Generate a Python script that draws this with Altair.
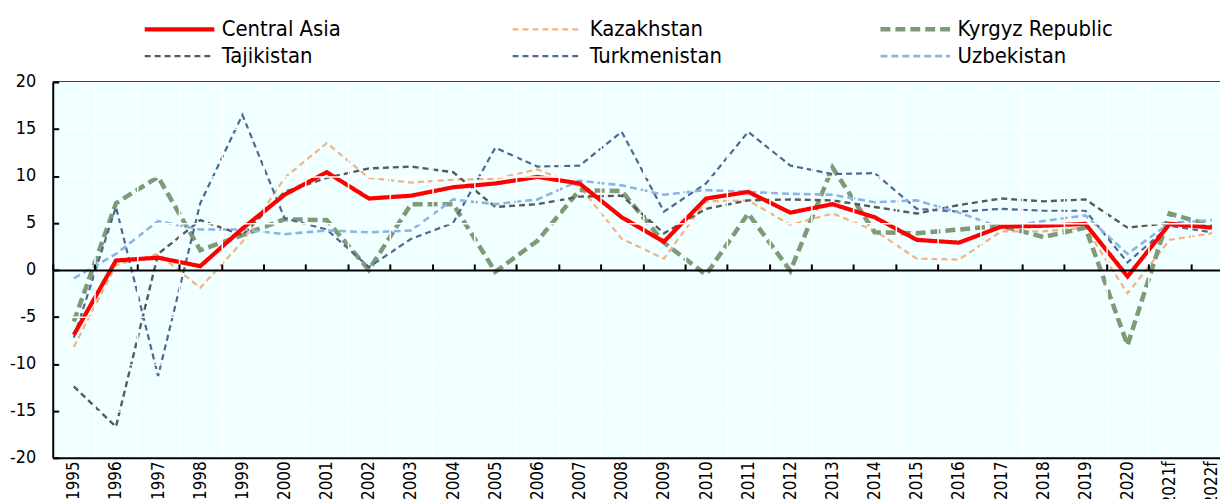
import altair as alt
import pandas as pd

years = [str(y) for y in range(1995, 2021)] + ["2021f", "2022f"]

series_names = ["Central Asia", "Kazakhstan", "Kyrgyz Republic",
                "Tajikistan", "Turkmenistan", "Uzbekistan"]

central_asia = [-6.9, 1.0, 1.3, 0.4, 4.4, 8.0, 10.4, 7.6, 7.9, 8.8, 9.2, 9.9, 9.2, 5.6,
                3.0, 7.6, 8.3, 6.1, 7.0, 5.6, 3.2, 2.9, 4.6, 4.7, 4.9, -0.7, 4.9, 4.5]
kazakhstan = [-8.2, 0.5, 1.7, -1.9, 3.0, 9.8, 13.5, 9.8, 9.3, 9.6, 9.7, 10.7, 8.9, 3.3,
              1.2, 7.3, 7.4, 4.8, 6.0, 4.2, 1.2, 1.1, 4.1, 4.1, 4.5, -2.5, 3.2, 3.9]
kyrgyz = [-5.5, 7.1, 9.9, 2.1, 3.7, 5.4, 5.3, 0.0, 7.0, 7.0, -0.2, 3.1, 8.5, 8.4,
          2.9, -0.5, 6.0, -0.1, 10.9, 4.0, 3.9, 4.3, 4.7, 3.5, 4.5, -8.0, 6.0, 4.7]
tajikistan = [-12.4, -16.7, 1.7, 5.3, 3.7, 8.3, 9.8, 10.8, 11.0, 10.4, 6.7, 7.0, 7.8, 7.9,
              3.9, 6.5, 7.4, 7.5, 7.4, 6.7, 6.0, 6.9, 7.6, 7.3, 7.5, 4.5, 5.0, 4.6]
turkmenistan = [-7.2, 6.7, -11.3, 7.1, 16.5, 5.5, 4.3, 0.3, 3.3, 5.0, 13.0, 11.0, 11.1, 14.7,
                6.2, 9.2, 14.7, 11.1, 10.2, 10.3, 6.5, 6.2, 6.5, 6.3, 6.3, 0.8, 4.7, 4.0]
uzbekistan = [-0.9, 1.7, 5.2, 4.3, 4.3, 3.8, 4.2, 4.0, 4.2, 7.5, 7.0, 7.5, 9.5, 9.0,
              8.0, 8.5, 8.3, 8.1, 8.0, 7.2, 7.4, 6.1, 4.5, 5.2, 5.8, 1.7, 5.0, 5.3]

y_ticks = [-20, -15, -10, -5, 0, 5, 10, 15, 20]

colors = ["#ff0000", "#f4b183", "#7e9a77", "#595959", "#4d6891", "#8db4e2"]
dashes = [[1, 0], [6, 4], [10, 5], [6, 4], [6, 4], [7, 4]]
widths = [4.2, 2.2, 4.5, 2.4, 2.2, 2.6]

FONT = "Liberation Sans Narrow, Arial Narrow, DejaVu Sans Condensed, Liberation Sans, sans-serif"

rows = []
for name, vals in zip(series_names,
                      [central_asia, kazakhstan, kyrgyz, tajikistan, turkmenistan, uzbekistan]):
    for yr, v in zip(years, vals):
        rows.append({"year": yr, "series": name, "value": v})
df = pd.DataFrame(rows)

W = 1174
H = 378
FULL = 1187  # full band range (plot continues beyond the right edge of the page)

xscale = alt.Scale(type="band", domain=years, range=[0, FULL], paddingInner=0, paddingOuter=0)
yscale = alt.Scale(domain=[-20, 20], nice=False, zero=False)

legend = alt.Legend(title=None, orient="none", legendX=90, legendY=-66, columns=3,
                    direction="horizontal", clipHeight=26,
                    symbolType="stroke", symbolSize=4900, labelFontSize=22, labelFont=FONT,
                    labelOffset=5, columnPadding=133, rowPadding=1, gridAlign="all",
                    padding=0, labelLimit=400, labelColor="black")

color = alt.Color("series:N", scale=alt.Scale(domain=series_names, range=colors), legend=legend)
dash = alt.StrokeDash("series:N", scale=alt.Scale(type="ordinal", domain=series_names, range=dashes),
                      legend=legend)
sw = alt.StrokeWidth("series:N", scale=alt.Scale(type="ordinal", domain=series_names, range=widths),
                     legend=legend)

xaxis = alt.Axis(orient="bottom", tickBand="extent", title=None, ticks=False, grid=True,
                 gridColor="white", gridWidth=1.5, domainColor="black", domainWidth=2,
                 labelAngle=270, labelAlign="right", labelBaseline="middle", labelFontSize=17,
                 labelFont=FONT, labelPadding=3, labelColor="black", labelOverlap=False,
                 labelFlush=False, zindex=1)
yaxis = alt.Axis(orient="left", values=y_ticks, title=None, ticks=False, grid=True,
                 gridColor={"condition": {"test": "datum.value === 0", "value": "transparent"},
                            "value": "white"},
                 gridWidth=1.5, domainColor="black", domainWidth=2, labelFontSize=18,
                 labelFont=FONT, labelPadding=17, labelColor="black",
                 labelExpr="'' + datum.value", zindex=1)

zero_axis = alt.Axis(orient="top", offset=-189, tickBand="extent", labels=False, title=None,
                     grid=False, domainColor="black", domainWidth=2, tickColor="black",
                     tickWidth=2, tickSize=6, zindex=1)
tick_axis = alt.Axis(orient="right", offset=-W, values=y_ticks, labels=False, title=None,
                     grid=False, domain=False, tickColor="black", tickWidth=2, tickSize=6,
                     zindex=1)

others = alt.Chart(df).transform_filter("datum.series != 'Central Asia'").mark_line().encode(
    x=alt.X("year:N", scale=xscale, sort=years, axis=xaxis),
    y=alt.Y("value:Q", scale=yscale, axis=yaxis),
    color=color, strokeDash=dash, strokeWidth=sw,
)

main = alt.Chart(df).transform_filter("datum.series == 'Central Asia'").mark_line().encode(
    x=alt.X("year:N", scale=xscale, sort=years, axis=None),
    y=alt.Y("value:Q", scale=yscale, axis=None),
    color=color, strokeDash=dash, strokeWidth=sw,
)

axes_layer = alt.Chart(df).mark_point(opacity=0).encode(
    x=alt.X("year:N", scale=xscale, sort=years, axis=zero_axis),
    y=alt.Y("value:Q", scale=yscale, axis=tick_axis),
)

top_border = alt.Chart(pd.DataFrame({"a": [0]})).mark_rule(color="black", strokeWidth=2).encode(
    x=alt.value(0), x2=alt.value(W), y=alt.value(0)
)

chart = alt.layer(others, main, axes_layer, top_border).resolve_axis(
    x="independent", y="independent"
).properties(
    width=W, height=H,
    autosize=alt.AutoSizeParams(type="none"),
    padding={"left": 45, "top": 73, "right": 0, "bottom": 45},
).configure(font=FONT).configure_view(fill="#f0ffff", stroke="transparent")

chart.save("out.html", embed_options={"renderer": "svg", "actions": False})
